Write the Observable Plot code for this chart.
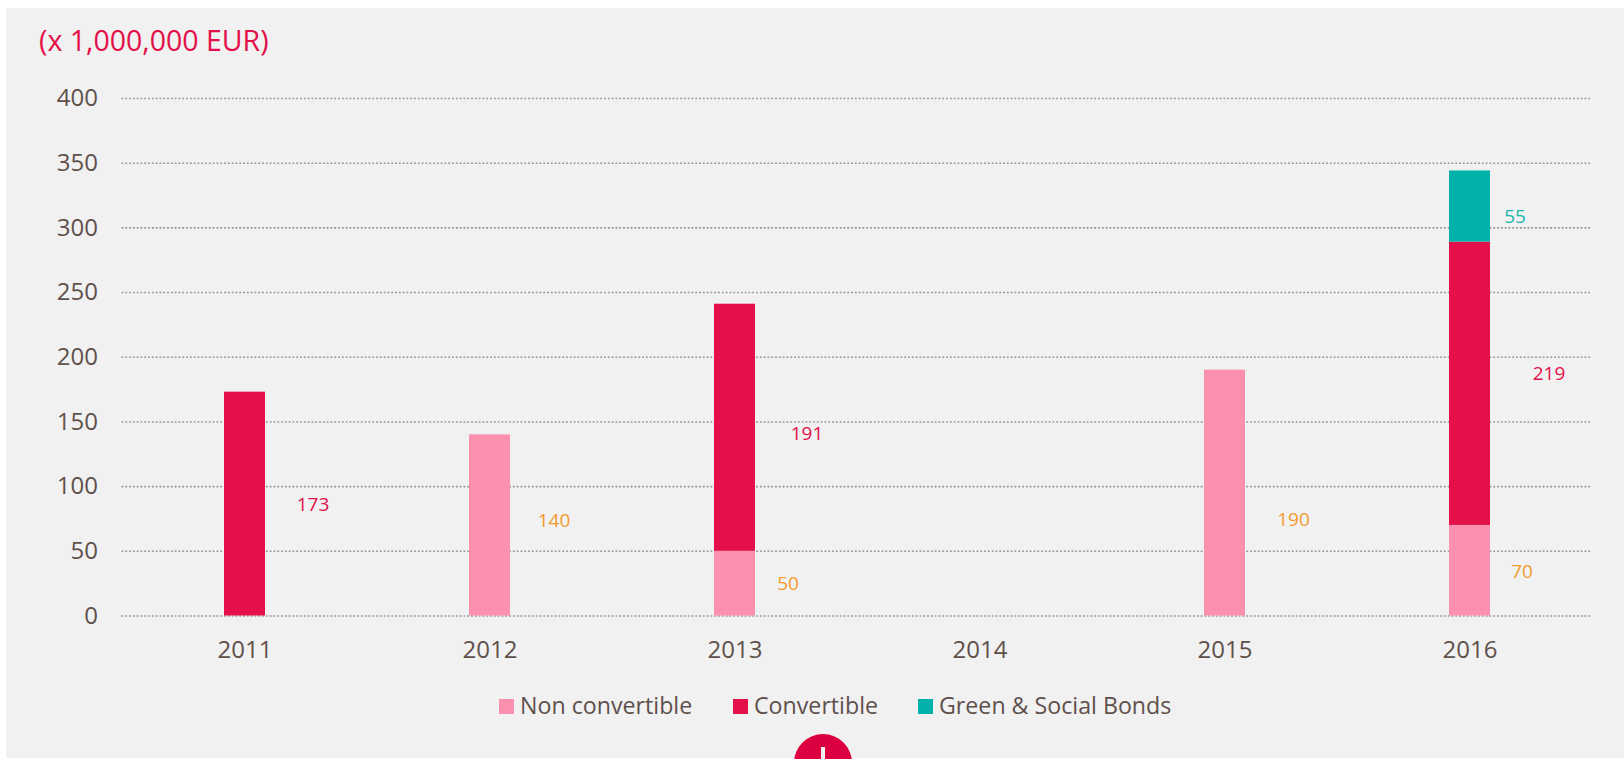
<!DOCTYPE html>
<html>
<head>
<meta charset="utf-8">
<script src="https://cdn.jsdelivr.net/npm/d3@7"></script>
<script src="https://cdn.jsdelivr.net/npm/@observablehq/plot@0.6"></script>
<style>
  html, body { margin: 0; padding: 0; width: 1624px; height: 759px; overflow: hidden; background: #fff; }
  body { position: relative; font-family: "Open Sans", sans-serif; color: #5f504c; }
  #panel { position: absolute; left: 6px; top: 8px; width: 1618px; height: 750px; background: #f1f1f1; }
  #title { position: absolute; left: 33px; top: 14px; font-size: 28.5px; line-height: 36px; color: #e31049; }
  #chart { position: absolute; left: -6px; top: 62px; }
  #chart svg { display: block; background: transparent; }
  #legend { position: absolute; top: 0; left: 0; font-size: 23.2px; }
  .entry { position: absolute; top: 682px; white-space: nowrap; line-height: 30px; }
  .entry i { position: absolute; left: -21px; top: 9px; width: 15px; height: 15px; }
  #more { position: absolute; left: 788px; top: 726px; width: 58px; height: 58px; border-radius: 50%; background: #dc0040; }
  #more::before { content: ""; position: absolute; left: 27px; top: 13px; width: 4px; height: 24px; background: #f1f1f1; }
  #more::after { content: ""; position: absolute; left: 17px; top: 24.5px; width: 24px; height: 4px; background: #f1f1f1; }
</style>
</head>
<body>
<div id="panel">
  <div id="title">(x 1,000,000 EUR)</div>
  <div id="chart"></div>
  <div id="legend"></div>
  <div id="more"></div>
</div>
<script>
// Bond issues per year, in millions of euros
const years = ["2011", "2012", "2013", "2014", "2015", "2016"];
const nonConvertible = [null, 140, 50, null, 190, 70];
const convertible = [173, null, 191, null, null, 219];
const greenSocial = [null, null, null, null, null, 55];

const seriesNames = ["Non convertible", "Convertible", "Green & Social Bonds"];
const seriesColors = ["#fb90af", "#e31049", "#00b2a9"];
const labelColors = ["#f29b2f", "#e31049", "#1cb5ac"];
const yTicks = [0, 50, 100, 150, 200, 250, 300, 350, 400];

// Hand placement of each value label, relative to its bar segment: [dx, dy]
const labelNudges = {
  "Non convertible": {2012: [64, -5], 2013: [53, 0.5], 2015: [68.5, 27], 2016: [52, 1]},
  "Convertible": {2011: [68, 1], 2013: [72, 6], 2016: [79, -10]},
  "Green & Social Bonds": {2016: [45, 10]}
};

// One row per bar segment, with its stacked midpoint for the label
const rows = [];
years.forEach((year, i) => {
  let base = 0;
  [nonConvertible, convertible, greenSocial].forEach((values, s) => {
    const value = values[i];
    if (value == null) return;
    rows.push({year, series: seriesNames[s], value, mid: base + value / 2, labelColor: labelColors[s]});
    base += value;
  });
});

const valueLabels = rows.map((row) => {
  const [dx, dy] = labelNudges[row.series][row.year];
  return Plot.text([row], {
    x: "year", y: "mid", text: (d) => String(d.value),
    dx, dy, fill: row.labelColor, fontSize: 19
  });
});

const chart = Plot.plot({
  width: 1624,
  height: 620,
  marginLeft: 121.5,
  marginRight: 32.5,
  marginTop: 28,
  marginBottom: 74.5,
  style: {fontFamily: '"Open Sans", sans-serif', color: "#5f504c", background: "transparent"},
  x: {domain: years, paddingInner: 0.833, paddingOuter: 0.4165, label: null},
  y: {domain: [0, 400], label: null},
  color: {domain: seriesNames, range: seriesColors},
  marks: [
    Plot.ruleY(yTicks, {stroke: "#959595", strokeWidth: 1.6, strokeDasharray: "1.8 2"}),
    Plot.barY(rows, {x: "year", y: "value", fill: "series", order: seriesNames}),
    ...valueLabels,
    Plot.axisY(yTicks, {tickSize: 0, tickPadding: 24, fontSize: 24, label: null, stroke: "none", fill: "#5f504c"}),
    Plot.axisX(years, {tickSize: 0, tickPadding: 24.5, fontSize: 24, label: null, stroke: "none", fill: "#5f504c"})
  ]
});
document.getElementById("chart").append(chart);

// Legend row under the axis
const legendLefts = [514, 748, 933];
const legend = d3.select("#legend");
seriesNames.forEach((name, s) => {
  const entry = legend.append("div").attr("class", "entry").style("left", legendLefts[s] + "px").text(name);
  entry.append("i").style("background", seriesColors[s]);
});
</script>
</body>
</html>
